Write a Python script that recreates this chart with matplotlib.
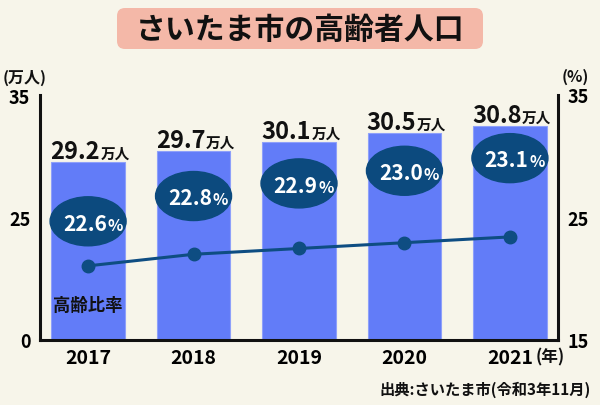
import matplotlib
matplotlib.use('Agg')
import matplotlib.pyplot as plt
from matplotlib.patches import Ellipse, FancyBboxPatch
from matplotlib.transforms import ScaledTranslation

years = ['2017', '2018', '2019', '2020', '2021']
population = [29.2, 29.7, 30.1, 30.5, 30.8]   # 万人
aging_rate = [22.6, 22.8, 22.9, 23.0, 23.1]   # %

left_ticks = ['0', '25', '35']
right_ticks = ['15', '25', '35']

bg = '#f7f5ea'
bar_c = '#627cf8'
navy = '#0c4a7e'
ink = '#111111'

plt.rcParams['font.family'] = ['Noto Sans CJK JP', 'DejaVu Sans']

fig = plt.figure(figsize=(6, 4.06), dpi=100, facecolor=bg)
ax = fig.add_axes([40/600, 65/406, 518/600, 245/406])
ax.set_facecolor('none')
x = list(range(len(years)))

# bars (population)
ax.bar(x, population, width=0.70, color=bar_c, edgecolor='#8ea0fa', linewidth=0.8, zorder=2)
lo, hi = 21.21, 32.20
ax.set_ylim(lo, hi)
ax.set_xlim(-0.456, 4.456)
ax.set_yticks([lo, (lo + hi) / 2, hi], left_ticks)
ax.set_xticks(x, years)
ax.tick_params(axis='y', length=0, pad=7, labelsize=13)
ax.tick_params(axis='x', length=0, pad=6, labelsize=14)
for lbl in ax.get_yticklabels() + ax.get_xticklabels():
    lbl.set_fontweight('bold')
for s in ['top', 'right']:
    ax.spines[s].set_visible(False)
for s in ['left', 'bottom']:
    ax.spines[s].set_linewidth(2.2)
    ax.spines[s].set_color(ink)

for i, v in enumerate(population):
    ax.annotate(f'{v}', (i, v), xytext=(8.6, 3), textcoords='offset points',
                ha='right', va='baseline', fontsize=17, fontweight='bold', color=ink)
    ax.annotate('万人', (i, v), xytext=(8.8, 3), textcoords='offset points',
                ha='left', va='baseline', fontsize=10.5, fontweight='bold', color=ink)

# line (aging rate)
ax2 = ax.twinx()
ax2.plot(x, aging_rate, color='#0e4d82', lw=2.2, marker='o', ms=9, zorder=3)
lo2, hi2 = 21.32, 25.55
ax2.set_ylim(lo2, hi2)
ax2.set_yticks([lo2, (lo2 + hi2) / 2, hi2], right_ticks)
ax2.tick_params(axis='y', length=0, pad=7, labelsize=13)
for lbl in ax2.get_yticklabels():
    lbl.set_fontweight('bold')
for s in ['top', 'left', 'bottom']:
    ax2.spines[s].set_visible(False)
ax2.spines['right'].set_linewidth(2.2)
ax2.spines['right'].set_color(ink)
ax2.annotate('高齢比率', (0, aging_rate[0]), xytext=(0, -28), textcoords='offset points',
             ha='center', va='center', fontsize=12.5, fontweight='bold', color=ink)

# bubbles with the rate
ax3 = ax.twinx()
ax3.axis('off')
ax3.set_xlim(-0.456, 4.456)
for i, r in enumerate(aging_rate):
    tr = fig.dpi_scale_trans + ScaledTranslation(i, r, ax3.transData)
    ax3.add_patch(Ellipse((0, 0), 0.76, 0.49, transform=tr, color=navy, zorder=4))
    ax3.annotate(f'{r}', (i, r), xytext=(13.5, -6), textcoords='offset points',
                 ha='right', va='baseline', fontsize=15, fontweight='bold', color='white', zorder=5)
    ax3.annotate('%', (i, r), xytext=(14, -6), textcoords='offset points',
                 ha='left', va='baseline', fontsize=11.5, fontweight='bold', color='white', zorder=5)
ax3.set_ylim(21.66, 23.60)

# title
fig.patches.append(FancyBboxPatch((1.17, 4.06 - 0.50), 3.66, 0.41,
                                  boxstyle='round,pad=0,rounding_size=0.08',
                                  transform=fig.dpi_scale_trans, fc='#f4b8a8', ec='none'))
fig.text(0.5, 1 - 30/406, 'さいたま市の高齢者人口', ha='center', va='center',
         fontsize=21.5, fontweight='bold', color=ink)

fig.text(3/600, 1 - 78/406, '(万人)', ha='left', va='center', fontsize=11.5, fontweight='bold', color=ink)
fig.text(589/600, 1 - 77/406, '(%)', ha='right', va='center', fontsize=11.5, fontweight='bold', color=ink)
fig.text(565/600, 1 - 357/406, '(年)', ha='right', va='center', fontsize=12, fontweight='bold', color=ink)
fig.text(591/600, 1 - 390/406, '出典:さいたま市(令和3年11月)', ha='right', va='center',
         fontsize=11, fontweight='bold', color=ink)

fig.savefig('out.png', dpi=100, facecolor=bg)
